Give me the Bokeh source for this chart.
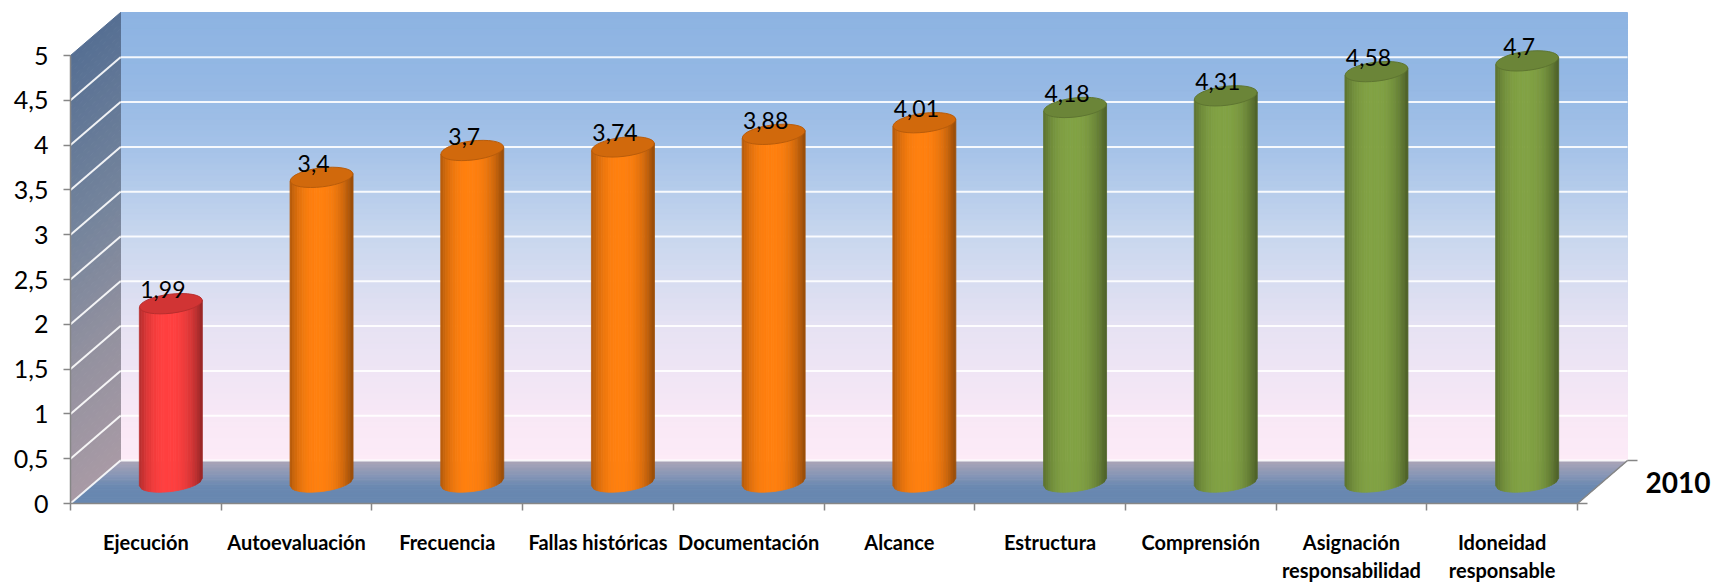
import math
from bokeh.plotting import figure
from bokeh.models import Range1d, FixedTicker, ColumnDataSource
from bokeh.core.properties import value
from bokeh.embed import file_html
from bokeh.resources import INLINE

# ---------------- data ----------------
categorias = ["Ejecución", "Autoevaluación", "Frecuencia", "Fallas históricas",
              "Documentación", "Alcance", "Estructura", "Comprensión",
              "Asignación\nresponsabilidad", "Idoneidad\nresponsable"]
valores = [1.99, 3.4, 3.7, 3.74, 3.88, 4.01, 4.18, 4.31, 4.58, 4.7]
serie = "2010"
y_ticks = [0, 0.5, 1, 1.5, 2, 2.5, 3, 3.5, 4, 4.5, 5]
y_tick_labels = ["0", "0,5", "1", "1,5", "2", "2,5", "3", "3,5", "4", "4,5", "5"]

# ---------------- geometry / style ----------------
W, H = 1711, 582
LEFT, BOTTOM = 70, 79      # pixel position of the front axes
PXX = 150.7          # px per category
PXY = 89.6           # px per value unit
N = len(categorias)
YMAX = y_ticks[-1]
DX = 50 / PXX        # 3D depth offset (data units)
DY = 43 / PXY
XSTART = -LEFT / PXX
XEND = (W - LEFT) / PXX
YSTART = -BOTTOM / PXY
YEND = (H - BOTTOM) / PXY
FONT = "Lato"


def h2r(h):
    h = h.lstrip("#")
    return tuple(int(h[i:i + 2], 16) for i in (0, 2, 4))


def r2h(c):
    return "#%02x%02x%02x" % tuple(int(max(0, min(255, round(x)))) for x in c)


def grad(stops, t):
    for (p0, c0), (p1, c1) in zip(stops[:-1], stops[1:]):
        if p0 <= t <= p1:
            f = (t - p0) / (p1 - p0) if p1 > p0 else 0
            a, b = h2r(c0), h2r(c1)
            return r2h([a[k] + (b[k] - a[k]) * f for k in range(3)])
    return stops[-1][1] if t > stops[-1][0] else stops[0][1]


def shade(hexc, f):
    return r2h([c * f for c in h2r(hexc)])


p = figure(width=W, height=H, x_range=Range1d(XSTART, XEND), y_range=Range1d(YSTART, YEND),
           output_backend="svg", toolbar_location=None,
           min_border_left=0, min_border_bottom=0,
           min_border_top=0, min_border_right=0)
p.outline_line_color = None
p.grid.visible = False
p.background_fill_color = "white"
p.border_fill_color = "white"

# ---------------- back wall (gradient) ----------------
wall_stops = [(0.0, "#FDEBF7"), (0.1, "#F8E8F6"), (0.3, "#E6E2F3"), (0.5, "#C8D7EE"),
              (0.7, "#A5C2E8"), (0.85, "#94B8E4"), (1.0, "#8DB3E2")]
NS = 80
bw = dict(left=[], right=[], bottom=[], top=[], color=[])
for k in range(NS):
    v0 = YMAX * k / NS
    v1 = YMAX * (k + 1) / NS
    bw["left"].append(DX)
    bw["right"].append(N + DX)
    bw["bottom"].append(v0 + DY)
    bw["top"].append(v1 + DY)
    bw["color"].append(grad(wall_stops, (v0 + v1) / 2 / YMAX))
p.quad(left="left", right="right", bottom="bottom", top="top", color="color",
       source=ColumnDataSource(bw), line_color="color", line_width=1)

# ---------------- side wall ----------------
side_stops = [(0.0, "#A89AA5"), (0.3, "#93919F"), (0.6, "#74849C"), (1.0, "#566F93")]
sw = dict(xs=[], ys=[], color=[])
for k in range(NS):
    v0 = YMAX * k / NS
    v1 = YMAX * (k + 1) / NS
    sw["xs"].append([0, DX, DX, 0])
    sw["ys"].append([v0, v0 + DY, v1 + DY, v1])
    sw["color"].append(grad(side_stops, (v0 + v1) / 2 / YMAX))
p.patches(xs="xs", ys="ys", color="color", source=ColumnDataSource(sw),
          line_color="color", line_width=1)

# ---------------- floor ----------------
floor_stops = [(0.0, "#6787B0"), (0.4, "#6A88B1"), (0.65, "#8595B6"), (1.0, "#ABA5B7")]
fl = dict(xs=[], ys=[], color=[])
NF = 30
for k in range(NF):
    t0 = k / NF
    t1 = (k + 1) / NF
    fl["xs"].append([t0 * DX, N + t0 * DX, N + t1 * DX, t1 * DX])
    fl["ys"].append([t0 * DY, t0 * DY, t1 * DY, t1 * DY])
    fl["color"].append(grad(floor_stops, (t0 + t1) / 2))
p.patches(xs="xs", ys="ys", color="color", source=ColumnDataSource(fl),
          line_color="color", line_width=1)

# ---------------- gridlines ----------------
gx, gy = [], []
for v in y_ticks[:-1]:
    gx.append([DX, N + DX]); gy.append([v + DY, v + DY])
for v in y_ticks[:-1]:
    gx.append([0, DX]); gy.append([v, v + DY])
p.multi_line(xs=gx, ys=gy, line_color="white", line_width=2, line_alpha=0.9)

# ---------------- cylinders ----------------
HW = 31.5 / PXX          # half width (data)
A_PX, B_PX = 31.5, 9.5   # ellipse semi-axes in px
TILT = 0.12


def base_color(v):
    if v < 3:
        return "#FF4040"
    if v < 4.1:
        return "#FF800F"
    return "#82A244"


def profile(u):
    c = -0.08
    if u < c:
        w = (c - u) / (1 + c)
        return 1 - 0.30 * w ** 2.5
    w = (u - c) / (1 - c)
    return 1 - 0.42 * w ** 2.5


cyl = dict(xs=[], ys=[], color=[])
tops = dict(x=[], y=[], color=[], line=[])
labels = dict(x=[], y=[], text=[])
NSTRIP = 26
for i, v in enumerate(valores):
    cx = i + 0.5 + DX / 2
    yb = DY / 2
    yt = v + DY / 2
    bc = base_color(v)

    def low(u):
        return yb + (math.sin(TILT) * A_PX * u - B_PX * math.sqrt(max(0, 1 - u * u))) / PXY

    def hi(u):
        return yt + (math.sin(TILT) * A_PX * u) / PXY

    for j in range(NSTRIP):
        u0 = -1 + 2 * j / NSTRIP
        u1 = -1 + 2 * (j + 1) / NSTRIP
        cyl["xs"].append([cx + u0 * HW, cx + u1 * HW, cx + u1 * HW, cx + u0 * HW])
        cyl["ys"].append([hi(u0), hi(u1), low(u1), low(u0)])
        cyl["color"].append(shade(bc, profile((u0 + u1) / 2)))
    tops["x"].append(cx)
    tops["y"].append(yt)
    tops["color"].append(shade(bc, 0.82))
    tops["line"].append(shade(bc, 0.72))
    labels["x"].append(cx - 8 / PXX)
    labels["y"].append(yt + 14 / PXY)
    labels["text"].append(str(v).replace(".", ","))

p.patches(xs="xs", ys="ys", color="color", source=ColumnDataSource(cyl),
          line_color="color", line_width=0.8)
p.ellipse(x="x", y="y", width=2 * HW, height=2 * B_PX / PXY, angle=TILT,
          fill_color="color", line_color="line", line_width=1, source=ColumnDataSource(tops))
p.text(x="x", y="y", text="text", source=ColumnDataSource(labels),
       text_font=value(FONT), text_font_size="23px", text_color="black",
       text_align="center", text_baseline="alphabetic")

# ---------------- depth axis + series label ----------------
AX_COL = "#868686"
p.segment(x0=[N, N, N + DX], y0=[0, 0, DY], x1=[N + DX, N + 10 / PXX, N + DX + 10 / PXX],
          y1=[DY, 0, DY], line_color=AX_COL, line_width=1.5)
p.text(x=[N + DX + 18 / PXX], y=[DY / 2], text=[serie], text_font=value(FONT),
       text_font_size="28px", text_font_style="bold", text_color="black",
       text_align="left", text_baseline="middle")

# ---------------- axes (placed at the front edges of the 3D box) ----------------
ya = p.yaxis[0]
ya.fixed_location = 0
ya.ticker = FixedTicker(ticks=y_ticks)
ya.major_label_overrides = {t: l for t, l in zip(y_ticks, y_tick_labels)}
ya.bounds = (0, YMAX)
ya.axis_line_color = AX_COL
ya.axis_line_width = 1.5
ya.major_tick_line_color = AX_COL
ya.major_tick_line_width = 1.5
ya.major_tick_out = 7
ya.major_tick_in = 0
ya.minor_tick_line_color = None
ya.major_label_standoff = 15
ya.major_label_text_font = FONT
ya.major_label_text_font_size = "25px"
ya.major_label_text_color = "black"

xa = p.xaxis[0]
xa.fixed_location = 0
centers = [i + 0.5 for i in range(N)]
xa.ticker = FixedTicker(ticks=centers, minor_ticks=list(range(N + 1)))
xa.major_label_overrides = {c: l for c, l in zip(centers, categorias)}
xa.bounds = (0, N)
xa.axis_line_color = AX_COL
xa.axis_line_width = 1.5
xa.major_tick_line_color = None
xa.minor_tick_line_color = AX_COL
xa.minor_tick_line_width = 1.5
xa.minor_tick_out = 7
xa.minor_tick_in = 0
xa.major_label_standoff = 19
xa.major_label_text_font = FONT
xa.major_label_text_font_size = "20px"
xa.major_label_text_font_style = "bold"
xa.major_label_text_color = "black"

open("out.html", "w").write(file_html(p, INLINE))
